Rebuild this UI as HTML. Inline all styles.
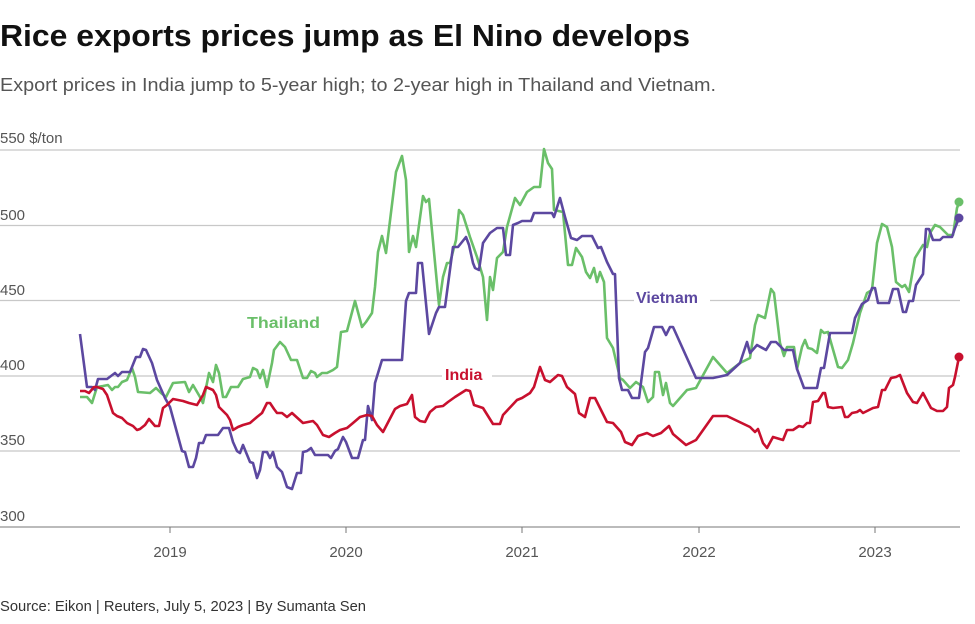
<!DOCTYPE html>
<html><head><meta charset="utf-8"><style>
body{margin:0;background:#fff;width:975px;height:619px;overflow:hidden;font-family:"Liberation Sans",sans-serif}
</style></head><body>
<svg width="975" height="619" xmlns="http://www.w3.org/2000/svg" font-family="Liberation Sans, sans-serif">
<text x="0" y="46" font-size="31" font-weight="bold" fill="#111" textLength="690" lengthAdjust="spacingAndGlyphs">Rice exports prices jump as El Nino develops</text>
<text x="0" y="91" font-size="18" fill="#555" textLength="716" lengthAdjust="spacingAndGlyphs">Export prices in India jump to 5-year high; to 2-year high in Thailand and Vietnam.</text>
<text x="0" y="143" font-size="15" fill="#555">550 $/ton</text>
<g stroke="#c8c8c8" stroke-width="1.2">
<line x1="0" y1="150" x2="960" y2="150"/><line x1="0" y1="225.5" x2="960" y2="225.5"/>
<line x1="0" y1="300.5" x2="960" y2="300.5"/><line x1="0" y1="376" x2="960" y2="376"/><line x1="0" y1="451" x2="960" y2="451"/>
</g>
<g font-size="15" fill="#555"><text x="0" y="220">500</text><text x="0" y="295">450</text><text x="0" y="370">400</text><text x="0" y="445">350</text><text x="0" y="521">300</text></g>
<line x1="0" y1="527" x2="960" y2="527" stroke="#777" stroke-width="1"/>
<g stroke="#777"><line x1="170" y1="527" x2="170" y2="533"/><line x1="346" y1="527" x2="346" y2="533"/><line x1="522" y1="527" x2="522" y2="533"/><line x1="699" y1="527" x2="699" y2="533"/><line x1="875" y1="527" x2="875" y2="533"/></g>
<g font-size="15" fill="#555" text-anchor="middle"><text x="170" y="557">2019</text><text x="346" y="557">2020</text><text x="522" y="557">2021</text><text x="699" y="557">2022</text><text x="875" y="557">2023</text></g>
<text x="0" y="611" font-size="14.5" fill="#333" textLength="366" lengthAdjust="spacingAndGlyphs">Source: Eikon | Reuters, July 5, 2023 | By Sumanta Sen</text>
<g fill="none" stroke-width="2.6" stroke-linejoin="round">
<polyline stroke="#6abf69" points="80,397 87,397 92,403 97,387 103,386 108,385 112,390 115,387 118,387 122,382 127,380 132,368 135,377 138,392 150,393 156,388 161,393 166,397 173,383 185,382 189,392 193,385 200,397 203,403 209,373 213,382 216,365 219,373 223,397 226,397 231,387 238,387 243,379 250,377 253,368 257,370 260,378 263,370 267,387 272,363 274,350 280,342 285,347 291,360 297,360 303,378 307,378 311,371 315,373 317,377 322,373 327,373 333,370 337,367 341,332 347,331 355,301 362,327 366,322 372,313 375,287 378,252 382,236 386,253 396,172 402,156 406,180 409,252 413,236 416,247 423,196 426,202 429,199 439,305 443,277 447,263 450,263 456,240 459,210 463,215 470,237 477,257 483,277 487,320 490,277 493,290 497,258 503,252 507,227 515,198 520,205 527,192 534,187 540,187 544,149 548,163 552,169 554,210 563,212 568,265 572,265 576,248 582,257 586,272 590,278 594,268 597,282 600,272 604,282 607,338 613,348 620,378 623,380 630,388 636,382 643,387 648,402 653,397 655,372 659,372 663,395 666,383 670,403 673,406 687,390 696,388 713,357 727,373 740,363 750,358 755,325 758,315 765,318 771,289 774,293 780,343 784,356 787,347 794,347 797,369 802,347 805,340 808,348 812,349 817,353 821,330 824,333 828,332 838,367 842,368 848,360 853,343 860,313 867,293 872,290 877,243 882,224 887,227 892,247 896,282 902,287 905,285 909,292 915,258 923,245 927,247 930,233 935,225 940,227 948,235 953,235 957,208 959,203"/>
<polyline stroke="#5c48a0" points="80,334 87,387 92,387 95,390 98,379 107,379 115,373 118,376 122,372 130,372 136,357 140,357 143,349 146,350 152,363 157,380 165,398 170,407 182,451 185,452 189,467 193,467 196,458 199,443 203,443 206,435 218,435 223,428 229,428 233,442 237,451 240,453 243,445 250,462 253,463 257,478 260,470 263,452 267,452 270,458 273,452 277,467 282,472 287,487 292,489 297,473 301,473 303,452 307,451 311,448 315,455 328,455 331,458 335,451 338,449 343,437 346,442 352,458 358,458 363,440 365,440 368,406 372,420 375,383 382,360 402,360 406,301 409,293 416,293 418,263 422,263 429,334 436,313 439,307 445,307 453,247 458,247 466,237 469,245 473,263 475,268 479,270 483,243 490,233 497,228 503,228 506,255 510,255 513,225 518,223 522,221 531,221 534,213 552,213 554,217 560,198 565,217 571,238 577,240 582,236 592,236 598,248 601,247 607,262 613,274 615,274 619,378 622,390 628,390 632,398 639,398 645,352 648,348 654,327 662,327 666,335 670,327 673,327 696,378 713,378 727,375 740,363 747,342 750,353 757,345 766,350 771,342 776,342 784,350 793,350 797,369 804,388 817,388 821,368 824,368 830,333 852,333 855,318 862,304 868,300 872,288 875,288 878,303 889,303 893,289 898,289 903,312 906,312 909,301 913,301 916,285 923,274 926,229 929,229 933,240 940,240 943,237 952,237 955,228 959,218"/>
<polyline stroke="#c8102e" points="80,391 85,391 89,393 94,387 97,387 103,389 107,395 113,413 117,416 122,418 127,423 133,426 137,430 140,429 145,425 149,419 155,426 159,426 163,408 167,405 173,399 183,401 189,403 197,405 203,395 206,387 213,390 216,395 219,407 227,415 230,420 233,430 238,427 243,425 250,423 257,417 262,413 267,403 270,403 274,409 277,413 282,413 287,417 292,413 303,423 308,422 313,421 317,425 323,435 329,437 335,433 340,430 347,428 353,423 360,417 367,415 372,416 377,425 383,432 395,409 400,406 407,404 412,395 415,417 420,421 425,422 430,412 436,407 443,406 448,402 455,397 466,390 470,391 474,405 483,408 493,424 500,424 503,415 517,400 522,398 530,393 534,387 540,367 545,380 550,382 558,375 562,376 567,387 575,394 579,413 585,417 590,398 595,398 607,422 613,423 621,432 625,442 632,445 638,436 647,433 653,436 661,433 669,426 673,434 686,445 696,440 713,416 727,416 750,427 755,432 758,429 763,443 767,448 773,437 783,440 787,430 793,430 799,426 803,427 807,423 810,423 813,402 818,401 823,393 825,393 828,407 833,408 842,407 845,417 848,417 852,413 857,412 860,410 863,413 873,408 878,407 882,390 885,390 891,378 896,377 900,375 907,393 913,402 917,403 923,393 931,408 937,411 943,411 947,407 949,388 953,385 955,377 959,357"/>
</g>
<circle cx="959" cy="202" r="4.5" fill="#6abf69"/><circle cx="959" cy="218" r="4.5" fill="#5c48a0"/><circle cx="959" cy="357" r="4.5" fill="#c8102e"/>
<g font-size="16" font-weight="bold">
<text x="247" y="328" fill="#6abf69" textLength="73" lengthAdjust="spacingAndGlyphs">Thailand</text>
<rect x="634" y="290" width="76" height="18" fill="#fff"/><text x="636" y="303" fill="#5c48a0">Vietnam</text>
<rect x="442" y="366" width="50" height="18" fill="#fff"/><text x="445" y="380" fill="#c8102e">India</text>
</g>
</svg>
</body></html>
